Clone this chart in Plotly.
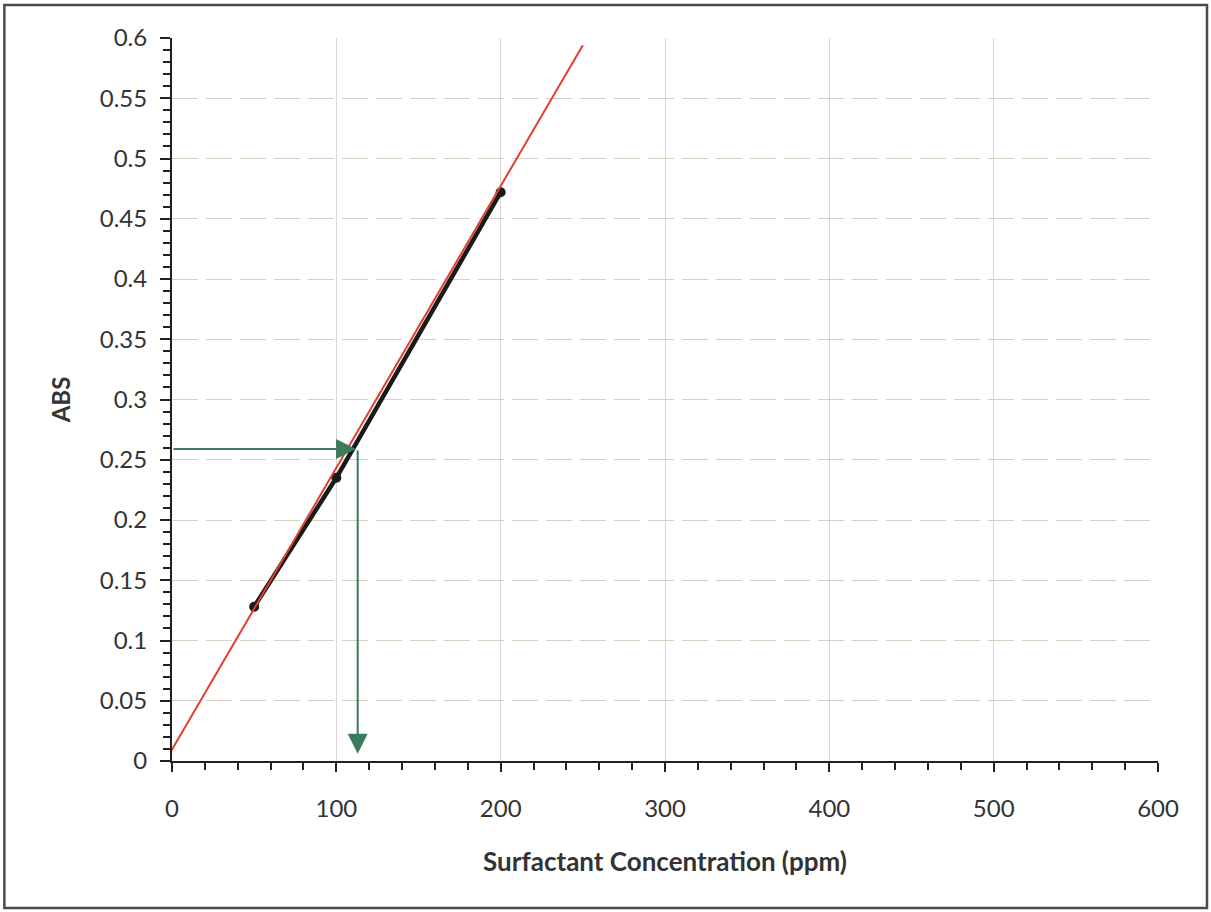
import plotly.graph_objects as go

# data
conc = [50, 100, 200]
absb = [0.128, 0.235, 0.472]
trend_x = [-9, 250]
trend_y = [-0.0115, 0.594]
read_abs = 0.259
read_conc = 113
arrow_tip_y = 0.006

x_ticks = [0, 100, 200, 300, 400, 500, 600]
y_ticks = [0, 0.05, 0.1, 0.15, 0.2, 0.25, 0.3, 0.35, 0.4, 0.45, 0.5, 0.55, 0.6]

FONT = "Lato"
GREEN = "#3b7a5c"

fig = go.Figure()
fig.add_trace(go.Scatter(x=conc, y=absb, mode="lines+markers",
                         line=dict(color="#1a1a1a", width=4.5),
                         marker=dict(color="#1a1a1a", size=10),
                         showlegend=False, cliponaxis=False))
fig.add_trace(go.Scatter(x=trend_x, y=trend_y, mode="lines",
                         line=dict(color="#e0402c", width=2),
                         showlegend=False, cliponaxis=False))

# green reading arrows
fig.add_annotation(x=read_conc - 1, y=read_abs, ax=0, ay=read_abs,
                   xref="x", yref="y", axref="x", ayref="y",
                   showarrow=True, arrowhead=2, arrowsize=2.0, arrowwidth=2,
                   arrowcolor=GREEN, text="")
fig.add_annotation(x=read_conc, y=arrow_tip_y, ax=read_conc, ay=read_abs,
                   xref="x", yref="y", axref="x", ayref="y",
                   showarrow=True, arrowhead=2, arrowsize=2.0, arrowwidth=2,
                   arrowcolor=GREEN, text="")

# page frame
fig.add_shape(type="rect", xref="paper", yref="paper",
              x0=-0.170, x1=1.0497, y0=-0.2033, y1=1.0456,
              line=dict(color="#4a4a4a", width=2.5))

fig.update_layout(
    width=1211, height=912,
    margin=dict(l=172, r=53, t=38, b=151),
    paper_bgcolor="white", plot_bgcolor="white",
    font=dict(family=FONT, size=24, color="#333333"),
    xaxis=dict(range=[0, 600], tickvals=x_ticks, ticktext=[str(v) for v in x_ticks],
               showline=True, linecolor="#222222", linewidth=2,
               ticks="outside", ticklen=9, tickwidth=2, tickcolor="#222222",
               ticklabelstandoff=16,
               minor=dict(dtick=20, ticks="outside", ticklen=7, tickwidth=2,
                          tickcolor="#222222", showgrid=False),
               showgrid=True, gridcolor="#dcd3d3", gridwidth=1,
               zeroline=False,
               title=dict(text="<b>Surfactant Concentration (ppm)</b>",
                          font=dict(size=26, color="#333333"), standoff=32)),
    yaxis=dict(range=[0, 0.6], tickvals=y_ticks,
               ticktext=[f"{v:g}" for v in y_ticks],
               showline=True, linecolor="#222222", linewidth=2,
               ticks="outside", ticklen=10, tickwidth=2, tickcolor="#222222",
               ticklabelstandoff=8,
               minor=dict(dtick=0.01, ticks="outside", ticklen=7, tickwidth=2,
                          tickcolor="#222222", showgrid=False),
               showgrid=True, gridcolor="#d8d0c2", gridwidth=1, griddash="26px,8px",
               zeroline=False,
               title=dict(text="<b>ABS</b>", font=dict(size=24, color="#333333"),
                          standoff=22)),
)

fig.write_html("out.html")
